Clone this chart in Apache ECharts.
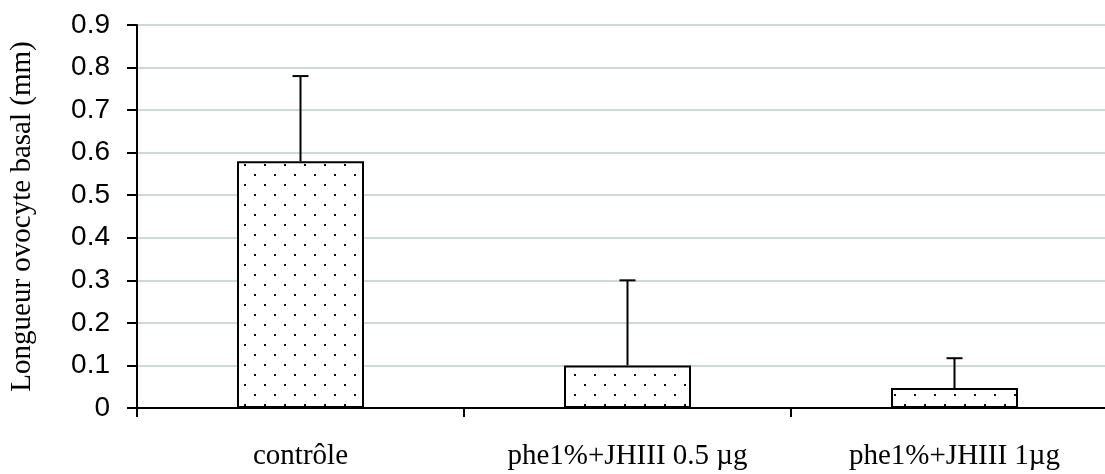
<!DOCTYPE html>
<html>
<head>
<meta charset="utf-8">
<script src="https://cdn.jsdelivr.net/npm/echarts@6/dist/echarts.min.js"></script>
<style>html,body{margin:0;padding:0;background:#fff}#c{width:1105px;height:474px}</style>
</head>
<body>
<div id="c"></div>
<script>
const categories = ['contrôle', 'phe1%+JHIII 0.5 µg', 'phe1%+JHIII 1µg'];
const means = [0.58, 0.10, 0.047];
const errors = [0.20, 0.20, 0.07];
const yTicks = [0, 0.1, 0.2, 0.3, 0.4, 0.5, 0.6, 0.7, 0.8, 0.9];

// dotted fill pattern
const pc = document.createElement('canvas');
pc.width = 20; pc.height = 20;
const g = pc.getContext('2d');
g.fillStyle = '#fff'; g.fillRect(0, 0, 20, 20);
g.fillStyle = '#111';
g.fillRect(4, 4, 2, 2);
g.fillRect(14, 14, 2, 2);

const chart = echarts.init(document.getElementById('c'), null, {renderer: 'canvas'});
const errData = categories.map((c, i) => [i, means[i], means[i] + errors[i]]);

chart.setOption({
  animation: false,
  backgroundColor: '#fff',
  grid: {left: 137, top: 25, width: 981, height: 383, containLabel: false, outerBoundsMode: 'none'},
  xAxis: {
    type: 'category',
    data: categories,
    boundaryGap: true,
    axisLine: {lineStyle: {color: '#000', width: 2}},
    axisTick: {show: true, length: 9, lineStyle: {color: '#000', width: 2}},
    axisLabel: {color: '#000', fontFamily: 'Liberation Serif', fontSize: 29, margin: 34}
  },
  yAxis: {
    type: 'value',
    min: yTicks[0], max: yTicks[yTicks.length - 1], interval: 0.1,
    name: 'Longueur ovocyte basal (mm)',
    nameLocation: 'middle', nameRotate: 90, nameGap: 100,
    nameTextStyle: {color: '#000', fontFamily: 'Liberation Serif', fontSize: 29},
    axisLine: {show: true, lineStyle: {color: '#000', width: 2}},
    axisTick: {show: true, length: 10, lineStyle: {color: '#000', width: 2}},
    axisLabel: {color: '#000', fontFamily: 'Liberation Sans', fontSize: 28, margin: 27,
      formatter: v => String(Math.round(v * 10) / 10)},
    splitLine: {show: true, lineStyle: {color: '#bccccc', width: 1.5}}
  },
  series: [
    {
      type: 'bar',
      data: means,
      barWidth: 127,
      itemStyle: {color: {image: pc, repeat: 'repeat'}, borderColor: '#000', borderWidth: 2}
    },
    {
      type: 'custom',
      data: errData,
      z: 5,
      renderItem: function (params, api) {
        const i = api.value(0);
        const top = api.coord([i, api.value(2)]);
        const base = api.coord([i, api.value(1)]);
        const hw = 8;
        return {
          type: 'group',
          children: [
            {type: 'line', shape: {x1: top[0], y1: base[1], x2: top[0], y2: top[1]},
             style: {stroke: '#000', lineWidth: 2}},
            {type: 'line', shape: {x1: top[0] - hw, y1: top[1], x2: top[0] + hw, y2: top[1]},
             style: {stroke: '#000', lineWidth: 2}}
          ]
        };
      }
    }
  ]
});
</script>
</body>
</html>
